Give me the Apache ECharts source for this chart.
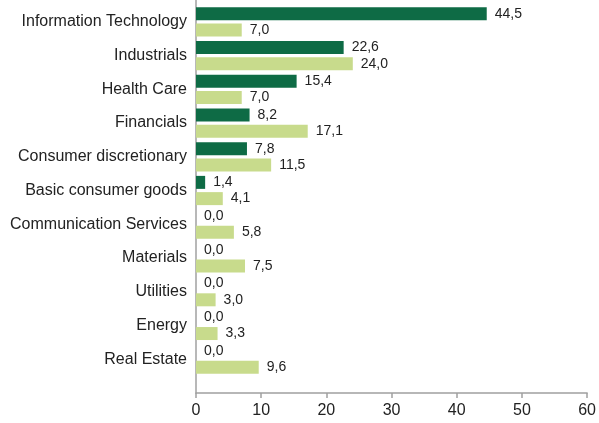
<!DOCTYPE html>
<html>
<head>
<meta charset="utf-8">
<script src="https://cdn.jsdelivr.net/npm/echarts@6/dist/echarts.min.js"></script>
<style>
  html, body { margin: 0; padding: 0; background: #fff; }
  #chart { width: 599px; height: 423px; }
</style>
</head>
<body>
<div id="chart"></div>
<script>
var categories = ['Information Technology', 'Industrials', 'Health Care', 'Financials',
  'Consumer discretionary', 'Basic consumer goods', 'Communication Services',
  'Materials', 'Utilities', 'Energy', 'Real Estate'];
var darkValues = [44.5, 22.6, 15.4, 8.2, 7.8, 1.4, 0, 0, 0, 0, 0];
var lightValues = [7.0, 24.0, 7.0, 17.1, 11.5, 4.1, 5.8, 7.5, 3.0, 3.3, 9.6];
var xTicks = [0, 60, 10];

function fmt(p) {
  return p.value.toFixed(1).replace('.', ',');
}

var chart = echarts.init(document.getElementById('chart'));
var labelStyle = {
  show: true,
  position: 'right',
  distance: 8,
  color: '#222',
  fontSize: 14,
  fontFamily: 'Liberation Sans',
  formatter: fmt
};
var option = {
  animation: false,
  grid: [
    { left: 196, right: 11, top: 0, bottom: 30 },
    { left: 196, right: 11, top: 5, bottom: 47 }
  ],
  xAxis: [
    {
      gridIndex: 0,
      type: 'value',
      min: xTicks[0], max: xTicks[1], interval: xTicks[2],
      axisLine: { show: true, lineStyle: { color: '#a0a0a0', width: 1.5 } },
      axisTick: { show: true, length: 5, lineStyle: { color: '#a0a0a0', width: 1.5 } },
      axisLabel: { color: '#222', fontSize: 16, fontFamily: 'Liberation Sans', margin: 10 },
      splitLine: { show: false }
    },
    {
      gridIndex: 1,
      type: 'value',
      min: xTicks[0], max: xTicks[1], interval: xTicks[2],
      show: false
    }
  ],
  yAxis: [
    {
      gridIndex: 0,
      type: 'category',
      data: categories,
      axisLine: { show: true, lineStyle: { color: '#a0a0a0', width: 1.5 } },
      axisTick: { show: false },
      axisLabel: { show: false }
    },
    {
      gridIndex: 1,
      type: 'category',
      data: categories,
      inverse: true,
      axisLine: { show: false },
      axisTick: { show: false },
      axisLabel: { color: '#222', fontSize: 16, fontFamily: 'Liberation Sans', margin: 9 }
    }
  ],
  series: [
    {
      type: 'bar',
      xAxisIndex: 1,
      yAxisIndex: 1,
      data: darkValues,
      barWidth: 13,
      barGap: '25%',
      itemStyle: { color: '#0e6b45' },
      label: labelStyle
    },
    {
      type: 'bar',
      xAxisIndex: 1,
      yAxisIndex: 1,
      data: lightValues,
      barWidth: 13,
      barGap: '25%',
      itemStyle: { color: '#c8db8c' },
      label: labelStyle
    }
  ]
};
chart.setOption(option);
</script>
</body>
</html>
